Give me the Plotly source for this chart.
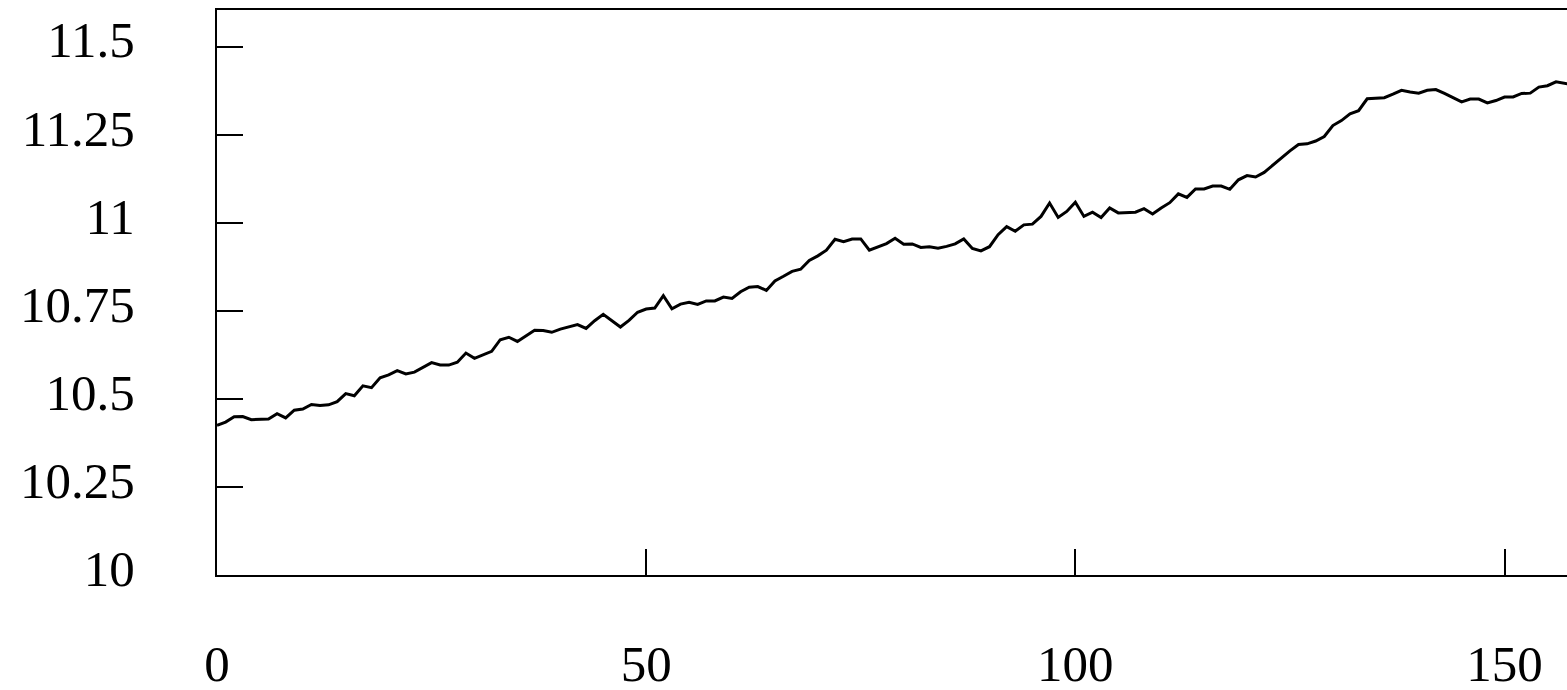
"""
    Line chart
"""
import plotly.graph_objects as go

# Series values (one per step)
values = [
    10.425, 10.434, 10.449, 10.450, 10.441, 10.442, 10.443, 10.458, 10.446, 10.468,
    10.471, 10.484, 10.481, 10.483, 10.492, 10.515, 10.509, 10.537, 10.532, 10.560,
    10.568, 10.580, 10.571, 10.576, 10.590, 10.603, 10.596, 10.596, 10.604, 10.630,
    10.615, 10.625, 10.635, 10.668, 10.675, 10.663, 10.679, 10.695, 10.694, 10.689,
    10.698, 10.705, 10.711, 10.700, 10.722, 10.740, 10.722, 10.704, 10.723, 10.746,
    10.755, 10.758, 10.793, 10.756, 10.769, 10.774, 10.768, 10.778, 10.778, 10.789,
    10.785, 10.804, 10.817, 10.819, 10.808, 10.835, 10.848, 10.862, 10.868, 10.893,
    10.906, 10.922, 10.953, 10.946, 10.954, 10.954, 10.922, 10.931, 10.941, 10.956,
    10.939, 10.940, 10.930, 10.932, 10.928, 10.933, 10.940, 10.954, 10.927, 10.920,
    10.932, 10.966, 10.989, 10.976, 10.994, 10.996, 11.018, 11.056, 11.015, 11.032,
    11.058, 11.018, 11.030, 11.015, 11.042, 11.028, 11.029, 11.030, 11.040, 11.025,
    11.042, 11.057, 11.082, 11.072, 11.096, 11.096, 11.104, 11.104, 11.095, 11.122,
    11.134, 11.130, 11.143, 11.164, 11.185, 11.204, 11.222, 11.224, 11.232, 11.245,
    11.276, 11.290, 11.309, 11.318, 11.352, 11.354, 11.355, 11.365, 11.376, 11.371,
    11.368, 11.376, 11.378, 11.367, 11.354, 11.343, 11.351, 11.351, 11.340, 11.347,
    11.357, 11.357, 11.367, 11.368, 11.385, 11.389, 11.400, 11.395, 11.392,
]
steps = list(range(len(values)))

# Tick labels
x_tickvals = [0, 50, 100, 150]
x_ticktext = ["0", "50", "100", "150"]
y_tickvals = [10, 10.25, 10.5, 10.75, 11, 11.25, 11.5]
y_ticktext = ["10", "10.25", "10.5", "10.75", "11", "11.25", "11.5"]


def main():
    font, font_size = "Liberation Serif", 51
    generateChart(font, font_size)
    return


def generateChart(font, font_size):

    fig = go.Figure()
    fig.add_trace(go.Scatter(x=steps, y=values, mode="lines",
                             line=dict(color="black", width=3),
                             showlegend=False, hoverinfo="skip"))

    axis_common = dict(showgrid=False, zeroline=False, showline=True,
                       linecolor="black", linewidth=2.2, automargin=False,
                       ticks="inside", ticklen=26, tickwidth=2.2,
                       tickcolor="black",
                       tickfont=dict(family=font, size=font_size, color="black"))

    fig.update_xaxes(range=[0, 157.28], tickvals=x_tickvals, ticktext=x_ticktext,
                     mirror=True, ticklabelstandoff=43, **axis_common)
    fig.update_yaxes(range=[10, 11.604], tickvals=y_tickvals, ticktext=y_ticktext,
                     mirror=False, ticklabelstandoff=70, ticklabelshift=-7,
                     **axis_common)

    fig.update_layout(width=1567, height=690,
                      margin=dict(l=217, r=0, t=10, b=115),
                      paper_bgcolor="white", plot_bgcolor="white",
                      font=dict(family=font, size=font_size, color="black"))

    # drop the default page margin so the figure fills the window exactly
    fig.write_html("out.html", config={"displayModeBar": False},
                   post_script="document.body.style.margin='0';"
                               "document.body.style.overflow='hidden';")
    return


if __name__ == "__main__":
    main()
